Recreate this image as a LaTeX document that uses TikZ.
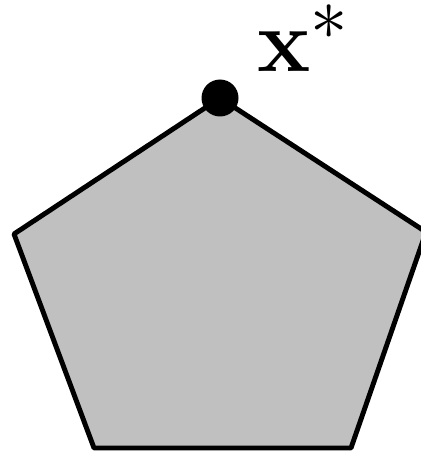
\documentclass[tikz,border=0pt]{standalone}
\usepackage{amsmath,graphicx}
\definecolor{polygray}{RGB}{192,192,192}
\tikzset{
  polyface/.style={draw=black, fill=polygray, line width=2.8pt, line join=round},
  optdot/.style={circle, fill=black, inner sep=0pt, minimum size=0.74cm},
  optlabel/.style={inner sep=0pt}
}
\begin{document}
\begin{tikzpicture}[x=0.02cm, y=-0.02cm]
  \useasboundingbox (0,0) rectangle (421,455);
  % corners of the feasible region
  \coordinate (top) at (220,98);
  \coordinate (lft) at (14,234);
  \coordinate (bl) at (94,448);
  \coordinate (br) at (351,448);
  \coordinate (rgt) at (426,232);
  \draw[polyface] (top) -- (rgt) -- (br) -- (bl) -- (lft) -- cycle;
  \node[optdot] (xopt) at (top) {};
  \node[optlabel, anchor=base west] (xlab) at (257,72) {\scalebox{2.05}{\fontsize{24.88}{30}\selectfont$\mathbf{x}^*$}};
\end{tikzpicture}
\end{document}
